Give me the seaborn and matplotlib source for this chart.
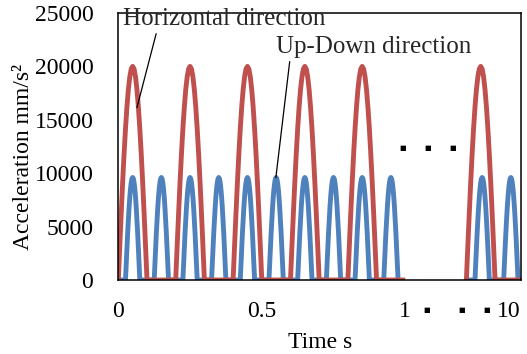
import numpy as np
import pandas as pd
import matplotlib
matplotlib.use("Agg")
import matplotlib.pyplot as plt
import seaborn as sns

# ---- data ----
# half-sine pulse shape, fraction of peak at 20 equal steps across the pulse
pulse_shape = [0.0, 0.156, 0.309, 0.454, 0.588, 0.707, 0.809, 0.891, 0.951, 0.988, 1.0,
               0.988, 0.951, 0.891, 0.809, 0.707, 0.588, 0.454, 0.309, 0.156, 0.0]

horiz_peak = 20000          # mm/s^2
horiz_width = 0.10          # s
horiz_starts_left = [0.0, 0.2, 0.4, 0.6, 0.8]
horiz_starts_right = [1.213, 1.413]
horiz_left_end = 1.0
horiz_right_span = [1.213, 1.45]

updown_peak = 9600          # mm/s^2
updown_width = 0.05         # s
updown_starts_left = [0.025, 0.125, 0.225, 0.325, 0.425, 0.525, 0.625, 0.725, 0.825, 0.925]
updown_starts_right = [1.243, 1.343, 1.443]
updown_left_end = 0.98
updown_right_span = [1.213, 1.45]

xtick_pos = [0, 0.5, 1, 1.36]
xtick_labels = ["0", "0.5", "1", "10"]
ytick_vals = [0, 5000, 10000, 15000, 20000, 25000]


def build(starts, width, peak, t0, t1):
    t, v = [t0], [0.0]
    for s in starts:
        for i, f in enumerate(pulse_shape):
            t.append(s + width * i / (len(pulse_shape) - 1))
            v.append(peak * f)
    t.append(t1)
    v.append(0.0)
    return t, v


rows = []
for name, starts_l, starts_r, w, pk, lend, rspan in [
    ("Up-Down", updown_starts_left, updown_starts_right, updown_width, updown_peak,
     updown_left_end, updown_right_span),
    ("Horizontal", horiz_starts_left, horiz_starts_right, horiz_width, horiz_peak,
     horiz_left_end, horiz_right_span),
]:
    t, v = build(starts_l, w, pk, 0.0, lend)
    rows += [dict(time=a, acc=b, series=name, seg=0) for a, b in zip(t, v)]
    t, v = build(starts_r, w, pk, rspan[0], rspan[1])
    rows += [dict(time=a, acc=b, series=name, seg=1) for a, b in zip(t, v)]
df = pd.DataFrame(rows)

# ---- styling ----
sns.set_theme(style="white")
plt.rcParams["font.family"] = ["Liberation Serif", "DejaVu Serif"]
FS = 17
FA = 18

fig = plt.figure(figsize=(5.27, 3.54), dpi=100)
ax = fig.add_axes([0.2245, 0.209, 0.765, 0.7543])

palette = {"Horizontal": "#C0504D", "Up-Down": "#4F81BD"}
for name in ["Up-Down", "Horizontal"]:
    sub = df[df.series == name]
    sns.lineplot(data=sub, x="time", y="acc", units="seg", estimator=None,
                 color=palette[name], lw=3.5, ax=ax, legend=False, sort=False,
                 solid_joinstyle="round", solid_capstyle="butt")

ax.set_xlim(0, 1.405)
ax.set_ylim(0, 25000)
ax.set_yticks(ytick_vals)
ax.set_yticklabels([str(v) for v in ytick_vals], fontsize=FS)
ax.set_xticks(xtick_pos)
ax.set_xticklabels(xtick_labels, fontsize=FS)
ax.tick_params(axis="y", direction="in", length=6, width=1.1, pad=18, colors="black")
ax.tick_params(axis="x", length=0, pad=15, colors="black")
for sp in ax.spines.values():
    sp.set_color("black")
    sp.set_linewidth(1.1)

ax.set_xlabel("Time s", fontsize=FS, labelpad=7, color="black")
ax.set_ylabel("Acceleration mm/s²", fontsize=FS, color="black")
ax.yaxis.set_label_coords(-0.21, 0.46)

# annotations
ax.annotate("Horizontal direction", xy=(0.065, 16150), xytext=(0.015, 24400),
            fontsize=FA, va="center", ha="left",
            arrowprops=dict(arrowstyle="-", lw=0.9, color="black",
                            shrinkA=0, shrinkB=0, relpos=(0.17, 0.0)))
ax.annotate("Up-Down direction", xy=(0.549, 9577), xytext=(0.551, 21784),
            fontsize=FA, va="center", ha="left",
            arrowprops=dict(arrowstyle="-", lw=0.9, color="black",
                            shrinkA=0, shrinkB=0, relpos=(0.07, 0.0)))

# break dots inside plot and in tick row
for xd in [0.99, 1.077, 1.164]:
    ax.text(xd, 12400, "■", fontsize=5, ha="center", va="center",
            family="DejaVu Sans", color="black")
for xd in [1.075, 1.197, 1.284]:
    ax.text(xd, -2800, "■", fontsize=5, ha="center", va="center",
            family="DejaVu Sans", color="black", clip_on=False)

fig.savefig("out.png", dpi=100)
